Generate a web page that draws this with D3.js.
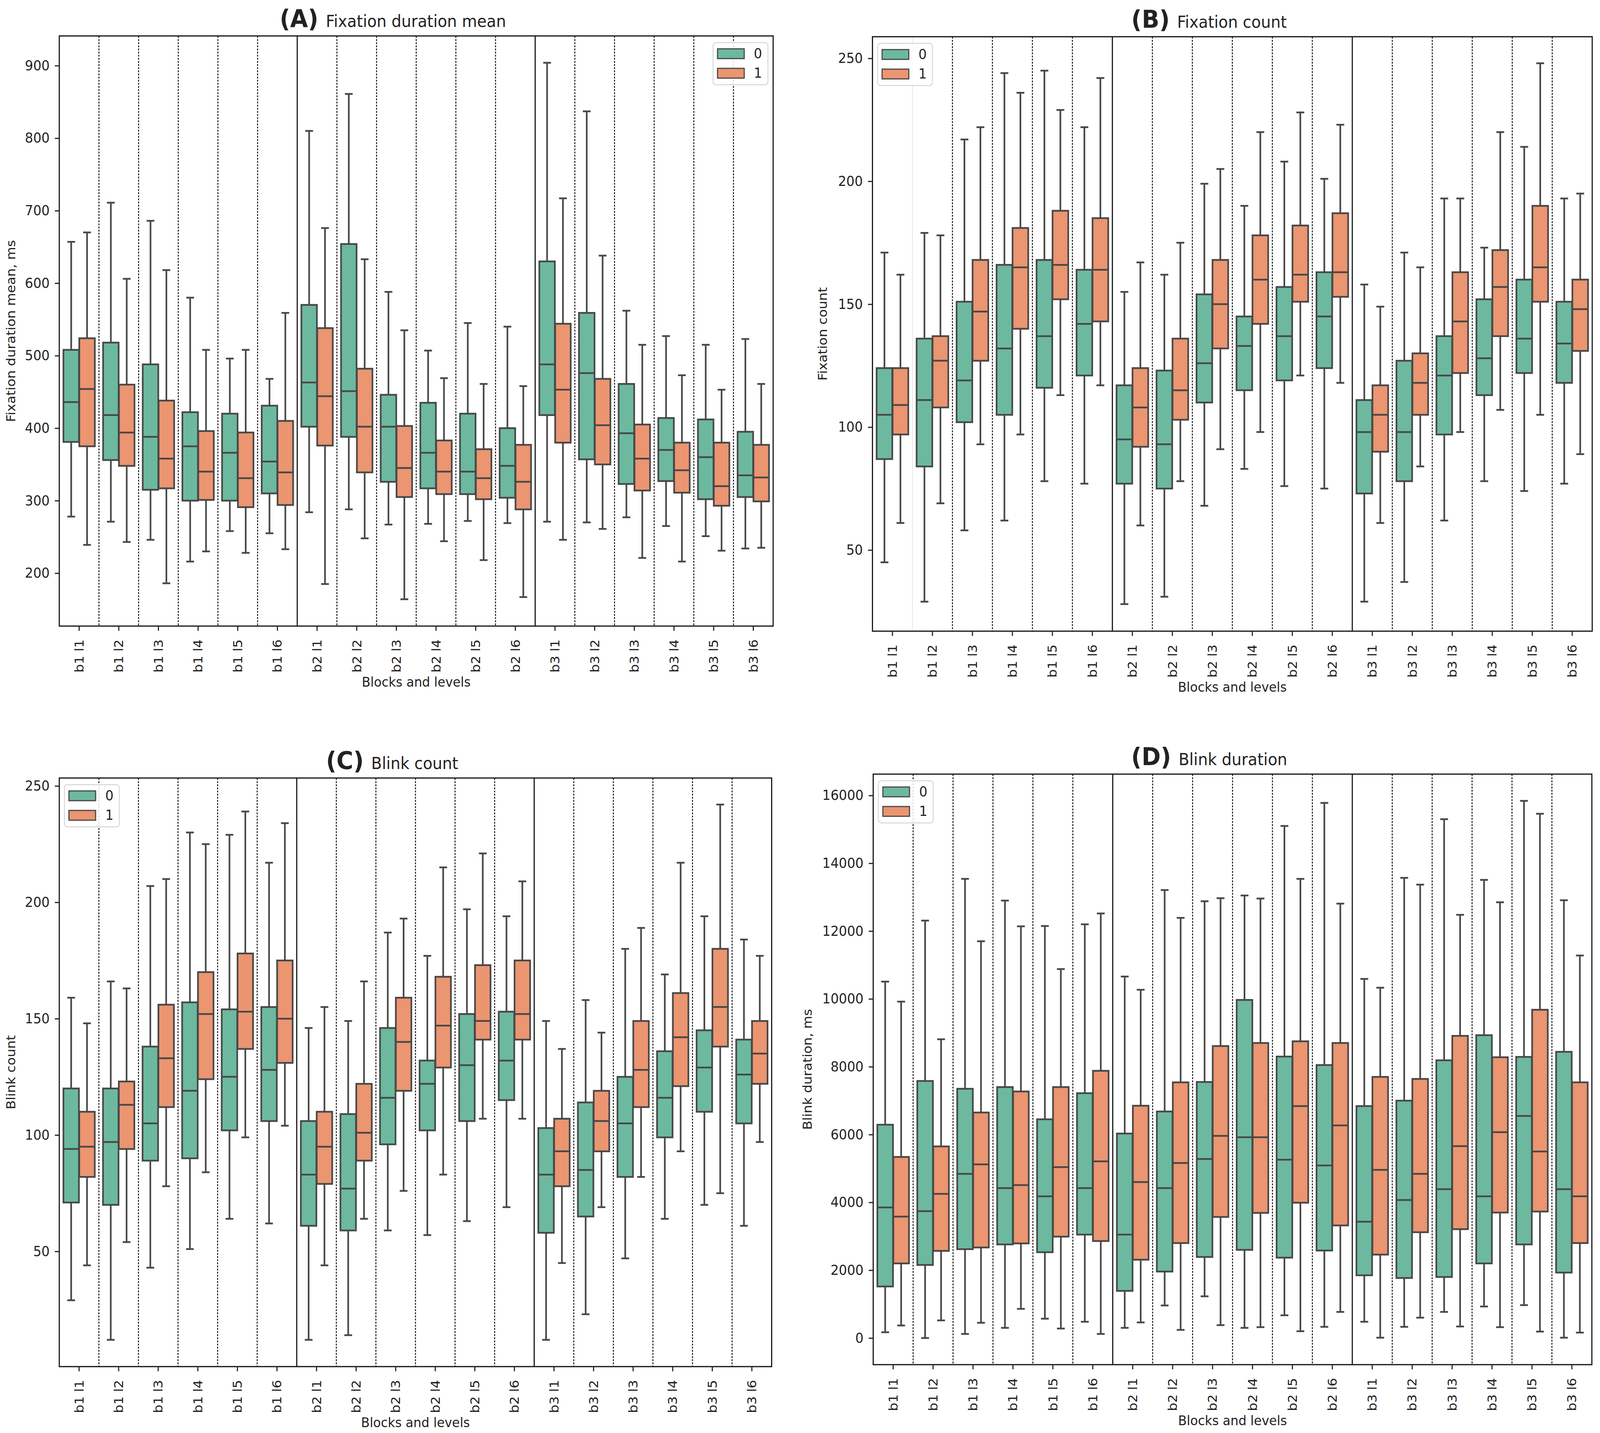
<!DOCTYPE html>
<html>
<head>
<meta charset="utf-8">
<script src="https://cdn.jsdelivr.net/npm/d3@7"></script>
<style>
  html, body { margin: 0; padding: 0; background: #fff; overflow: hidden; }
  text { font-family: "DejaVu Sans", sans-serif; fill: #222; }
</style>
</head>
<body>
<script>
// categories
const levels = ["b1 l1","b1 l2","b1 l3","b1 l4","b1 l5","b1 l6",
                "b2 l1","b2 l2","b2 l3","b2 l4","b2 l5","b2 l6",
                "b3 l1","b3 l2","b3 l3","b3 l4","b3 l5","b3 l6"];
const groups = ["0", "1"];

// box summaries: [whisker low, q1, median, q3, whisker high]
const fixDur0 = [[278,381,436,508,657],[271,356,418,518,711],[246,315,388,488,686],[216,300,375,422,580],[258,300,366,420,496],[255,310,354,431,468],
                 [284,402,463,570,810],[288,388,451,654,861],[267,326,402,446,588],[268,317,366,435,507],[272,309,340,420,545],[269,304,348,400,540],
                 [271,418,488,630,904],[270,357,476,559,837],[277,323,393,461,562],[265,327,370,414,527],[251,302,360,412,515],[234,305,335,395,523]];
const fixDur1 = [[239,375,454,524,670],[243,348,394,460,606],[186,317,358,438,618],[230,301,340,396,508],[228,291,331,394,508],[233,294,339,410,559],
                 [185,376,444,538,676],[248,339,402,482,633],[164,305,345,403,535],[244,309,340,383,469],[218,302,331,371,461],[167,288,326,377,458],
                 [246,380,453,544,717],[261,350,404,468,638],[221,314,358,405,515],[216,311,342,380,473],[231,293,320,380,453],[235,299,332,377,461]];

const fixCnt0 = [[45,87,105,124,171],[29,84,111,136,179],[58,102,119,151,217],[62,105,132,166,244],[78,116,137,168,245],[77,121,142,164,222],
                 [28,77,95,117,155],[31,75,93,123,162],[68,110,126,154,199],[83,115,133,145,190],[76,119,137,157,208],[75,124,145,163,201],
                 [29,73,98,111,158],[37,78,98,127,171],[62,97,121,137,193],[78,113,128,152,173],[74,122,136,160,214],[77,118,134,151,193]];
const fixCnt1 = [[61,97,109,124,162],[69,108,127,137,178],[93,127,147,168,222],[97,140,165,181,236],[113,152,166,188,229],[117,143,164,185,242],
                 [60,92,108,124,167],[78,103,115,136,175],[91,132,150,168,205],[98,142,160,178,220],[121,151,162,182,228],[118,153,163,187,223],
                 [61,90,105,117,149],[84,105,118,130,165],[98,122,143,163,193],[107,137,157,172,220],[105,151,165,190,248],[89,131,148,160,195]];

const blinkCnt0 = [[29,71,94,120,159],[12,70,97,120,166],[43,89,105,138,207],[51,90,119,157,230],[64,102,125,154,229],[62,106,128,155,217],
                   [12,61,83,106,146],[14,59,77,109,149],[59,96,116,146,187],[57,102,122,132,177],[63,106,130,152,197],[69,115,132,153,194],
                   [12,58,83,103,149],[23,65,85,114,158],[47,82,105,125,180],[64,99,116,136,169],[70,110,129,145,194],[61,105,126,141,184]];
const blinkCnt1 = [[44,82,95,110,148],[54,94,113,123,163],[78,112,133,156,210],[84,124,152,170,225],[99,137,153,178,239],[104,131,150,175,234],
                   [44,79,95,110,155],[64,89,101,122,166],[76,119,140,159,193],[83,129,147,168,215],[107,141,149,173,221],[107,141,152,175,209],
                   [45,78,93,107,137],[69,93,106,119,144],[82,112,128,149,189],[93,121,142,161,217],[75,138,155,180,242],[97,122,135,149,177]];

const blinkDur0 = [[170,1520,3850,6290,10510],[0,2155,3740,7580,12310],[120,2620,4840,7350,13540],[300,2760,4420,7400,12900],[570,2530,4180,6450,12150],[480,3050,4420,7220,12200],
                   [300,1390,3050,6030,10660],[960,1960,4420,6680,13210],[1230,2390,5280,7550,12880],[300,2600,5920,9970,13050],[670,2370,5260,8300,15100],[330,2580,5090,8050,15780],
                   [480,1850,3430,6840,10590],[330,1770,4070,7000,13570],[770,1800,4390,8190,15300],[930,2200,4180,8930,13510],[970,2760,6550,8290,15840],[10,1930,4390,8440,12910]];
const blinkDur1 = [[370,2200,3580,5340,9920],[520,2570,4250,5650,8810],[450,2670,5120,6650,11700],[860,2790,4510,7270,12140],[280,2990,5040,7400,10880],[120,2860,5210,7880,12520],
                   [460,2310,4600,6850,10270],[240,2800,5160,7540,12390],[380,3570,5960,8610,12970],[320,3690,5920,8700,12960],[200,3990,6840,8750,13540],[770,3320,6270,8700,12810],
                   [10,2460,4960,7700,10330],[600,3120,4840,7640,13370],[340,3210,5660,8910,12480],[320,3700,6070,8280,12850],[190,3730,5500,9680,15460],[160,2800,4180,7540,11280]];

// tick labels
const fixDurTicks = [200, 300, 400, 500, 600, 700, 800, 900];
const fixCntTicks = [50, 100, 150, 200, 250];
const blinkCntTicks = [50, 100, 150, 200, 250];
const blinkDurTicks = [0, 2000, 4000, 6000, 8000, 10000, 12000, 14000, 16000];

const W = 4317, H = 3669;
const colors = ["#6cb9a0", "#eb9571"];
const edge = "#484848";

const panels = [
  {tag: "(A)", title: "Fixation duration mean", ylabel: "Fixation duration mean, ms",
   series: [fixDur0, fixDur1], ticks: fixDurTicks, domain: [127, 941],
   l: 160, r: 2086, t: 92, b: 1603, ylabelX: 29, legend: "right"},
  {tag: "(B)", title: "Fixation count", ylabel: "Fixation count",
   series: [fixCnt0, fixCnt1], ticks: fixCntTicks, domain: [17, 258.8],
   l: 2354, r: 4296, t: 94, b: 1616, ylabelX: 2219, legend: "left", faintFirst: true},
  {tag: "(C)", title: "Blink count", ylabel: "Blink count",
   series: [blinkCnt0, blinkCnt1], ticks: blinkCntTicks, domain: [0.5, 253.4],
   l: 160, r: 2082, t: 1992, b: 3499, ylabelX: 29, legend: "left"},
  {tag: "(D)", title: "Blink duration", ylabel: "Blink duration, ms",
   series: [blinkDur0, blinkDur1], ticks: blinkDurTicks, domain: [-785, 16629],
   l: 2356, r: 4295, t: 1982, b: 3494, ylabelX: 2178, legend: "left"}
];

// the drawing is laid out on a 4317x3669 grid and stretched to fill the viewport
const svg = d3.select("body").append("svg")
    .attr("viewBox", `0 0 ${W} ${H}`)
    .attr("preserveAspectRatio", "none")
    .style("width", "100vw")
    .style("height", "100vh")
    .style("display", "block");

svg.append("rect").attr("width", W).attr("height", H).attr("fill", "#fff");

function drawPanel(p) {
  const g = svg.append("g");

  const x = d3.scaleBand().domain(levels).range([p.l, p.r]).padding(0);
  const y = d3.scaleLinear().domain(p.domain).range([p.b, p.t]);
  const bw = x.bandwidth();

  // separators between levels (dashed) and blocks (solid)
  levels.slice(1).forEach((lv, i) => {
    const xp = x(lv);
    const newBlock = lv.slice(0, 2) !== levels[i].slice(0, 2);
    const line = g.append("line")
        .attr("x1", xp).attr("x2", xp)
        .attr("y1", p.t).attr("y2", p.b);
    if (newBlock) {
      line.attr("stroke", "#111").attr("stroke-width", 3);
    } else if (p.faintFirst && i === 0) {
      line.attr("stroke", "#e4e4e4").attr("stroke-width", 2);
    } else {
      line.attr("stroke", "#111").attr("stroke-width", 2.5).attr("stroke-dasharray", "5,3");
    }
  });

  // boxes
  const boxW = bw * 0.4 * 0.98;
  p.series.forEach((ser, gi) => {
    const off = (gi - 0.5) * bw * 0.4;
    ser.forEach((d, i) => {
      const cx = x(levels[i]) + bw / 2 + off;
      const [lo, q1, med, q3, hi] = d;
      const bg = g.append("g")
          .attr("stroke", edge)
          .attr("stroke-width", 4.5);
      bg.append("line").attr("x1", cx).attr("x2", cx).attr("y1", y(q3)).attr("y2", y(hi));
      bg.append("line").attr("x1", cx).attr("x2", cx).attr("y1", y(q1)).attr("y2", y(lo));
      bg.append("line").attr("x1", cx - boxW / 4).attr("x2", cx + boxW / 4).attr("y1", y(hi)).attr("y2", y(hi));
      bg.append("line").attr("x1", cx - boxW / 4).attr("x2", cx + boxW / 4).attr("y1", y(lo)).attr("y2", y(lo));
      bg.append("rect")
          .attr("x", cx - boxW / 2)
          .attr("y", y(q3))
          .attr("width", boxW)
          .attr("height", y(q1) - y(q3))
          .attr("fill", colors[gi]);
      bg.append("line").attr("x1", cx - boxW / 2).attr("x2", cx + boxW / 2).attr("y1", y(med)).attr("y2", y(med));
    });
  });

  // frame
  g.append("rect")
      .attr("x", p.l).attr("y", p.t)
      .attr("width", p.r - p.l).attr("height", p.b - p.t)
      .attr("fill", "none")
      .attr("stroke", "#111")
      .attr("stroke-width", 3);

  // axes
  const yAxis = d3.axisLeft(y).tickValues(p.ticks).tickSize(12).tickPadding(14).tickFormat(d3.format("d"));
  const ya = g.append("g").attr("transform", `translate(${p.l},0)`).call(yAxis);
  ya.select(".domain").remove();
  ya.selectAll("line").attr("stroke", "#222").attr("stroke-width", 3);
  ya.selectAll("text").attr("font-size", 35).attr("fill", "#222");

  const xAxis = d3.axisBottom(x).tickSize(12);
  const xa = g.append("g").attr("transform", `translate(0,${p.b})`).call(xAxis);
  xa.select(".domain").remove();
  xa.selectAll("line").attr("stroke", "#222").attr("stroke-width", 3);
  xa.selectAll("text")
      .attr("font-size", 34)
      .attr("fill", "#222")
      .attr("transform", "rotate(-90)")
      .attr("text-anchor", "end")
      .attr("x", -34)
      .attr("y", 0)
      .attr("dy", "0.35em");

  // axis labels
  g.append("text")
      .attr("transform", `translate(${p.ylabelX},${(p.t + p.b) / 2}) rotate(-90)`)
      .attr("text-anchor", "middle")
      .attr("dy", "0.35em")
      .attr("font-size", 34)
      .text(p.ylabel);

  g.append("text")
      .attr("x", (p.l + p.r) / 2)
      .attr("y", p.b + 155)
      .attr("text-anchor", "middle")
      .attr("font-size", 34)
      .text("Blocks and levels");

  // title
  const tt = g.append("text")
      .attr("x", (p.l + p.r) / 2 - 63)
      .attr("y", p.t - 23)
      .attr("text-anchor", "middle");
  tt.append("tspan").attr("font-size", 62).attr("font-weight", "bold").text(p.tag);
  tt.append("tspan").attr("font-size", 42).attr("dx", 20).text(p.title);

  // legend
  const lw = 148, lh = 108;
  const lx = p.legend === "right" ? p.r - 14 - lw : p.l + 14;
  const ly = p.t + 17;
  const lg = g.append("g").attr("transform", `translate(${lx},${ly})`);
  lg.append("rect")
      .attr("width", lw).attr("height", lh)
      .attr("rx", 8)
      .attr("fill", "#fff")
      .attr("fill-opacity", 0.85)
      .attr("stroke", "#d6d6d6")
      .attr("stroke-width", 2.5);
  groups.forEach((gr, gi) => {
    const cy = 28 + gi * 50;
    lg.append("rect")
        .attr("x", 12).attr("y", cy - 12)
        .attr("width", 72).attr("height", 25)
        .attr("fill", colors[gi])
        .attr("stroke", edge)
        .attr("stroke-width", 3);
    lg.append("text")
        .attr("x", 110).attr("y", cy)
        .attr("dy", "0.35em")
        .attr("font-size", 35)
        .text(gr);
  });
}

panels.forEach(drawPanel);
</script>
</body>
</html>
